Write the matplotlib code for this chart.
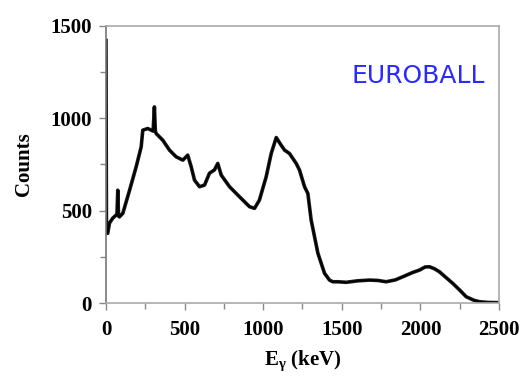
import matplotlib
matplotlib.use("Agg")
import matplotlib.pyplot as plt
from matplotlib.ticker import MultipleLocator

# Gamma-ray energy spectrum (energy in keV, counts per channel)
energy = [0, 3, 11, 22, 43, 70, 75, 80, 86, 107, 150, 192, 224, 234, 266, 300, 308,
          314, 319, 361, 404, 446, 489, 520, 542, 563, 595, 627, 658, 690, 711, 733,
          786, 849, 913, 945, 976, 1019, 1051, 1083, 1114, 1136, 1167, 1210, 1231,
          1263, 1284, 1305, 1348, 1390, 1422, 1443, 1475, 1528, 1600, 1676, 1730,
          1782, 1840, 1888, 1950, 1994, 2030, 2058, 2090, 2121, 2160, 2206, 2250,
          2291, 2340, 2376, 2430, 2500]
counts = [1420, 380, 377, 432, 459, 480, 610, 470, 466, 485, 610, 737, 845, 935, 944,
          930, 1061, 930, 917, 881, 827, 791, 773, 800, 737, 665, 629, 638, 702, 720,
          755, 692, 629, 575, 521, 512, 557, 683, 809, 895, 854, 827, 809, 755, 719,
          629, 593, 449, 269, 161, 124, 115, 115, 112, 120, 124, 122, 115, 125, 142,
          165, 178, 195, 196, 185, 169, 140, 106, 70, 34, 15, 7, 3, 2]

x_ticks = [0, 500, 1000, 1500, 2000, 2500]
y_ticks = [0, 500, 1000, 1500]

plt.rcParams["mathtext.fontset"] = "custom"
plt.rcParams["mathtext.rm"] = "Liberation Serif:bold"
plt.rcParams["mathtext.it"] = "Liberation Serif:bold"
plt.rcParams["mathtext.bf"] = "Liberation Serif:bold"

fig = plt.figure(figsize=(5.27, 3.76), dpi=100)
ax = fig.add_axes([0.2011, 0.1941, 0.7458, 0.7375])

ax.plot(energy, counts, color="black", linewidth=2.6, solid_joinstyle="round",
        alpha=0.9)
ax.plot(energy, counts, color="black", linewidth=1.2, solid_joinstyle="round")

ax.set_xlim(0, 2500)
ax.set_ylim(0, 1500)
ax.set_xticks(x_ticks)
ax.set_yticks(y_ticks)
ax.xaxis.set_minor_locator(MultipleLocator(250))
ax.yaxis.set_minor_locator(MultipleLocator(250))

tick_font = dict(family="Liberation Serif", weight="bold", size=15)
ax.set_xticklabels([str(v) for v in x_ticks], **tick_font)
ax.set_yticklabels([str(v) for v in y_ticks], **tick_font)

ax.tick_params(which="both", direction="out", color="#888888", width=1.0)
ax.tick_params(axis="x", which="major", length=5, pad=7)
ax.tick_params(axis="y", which="major", length=5, pad=5)
ax.tick_params(which="minor", length=4)

for side in ["top", "right", "bottom"]:
    ax.spines[side].set_color("#aaaaaa")
    ax.spines[side].set_linewidth(1.2)
ax.spines["left"].set_color("#777777")
ax.spines["left"].set_linewidth(1.2)

ax.set_ylabel("Counts", family="Liberation Serif", weight="bold", size=15, labelpad=12)
ax.set_xlabel(r"E$_{\gamma}$ (keV)", family="Liberation Serif", weight="bold", size=15,
              labelpad=6)

ax.text(0.964, 0.818, "EUROBALL", transform=ax.transAxes, ha="right", va="center",
        color="#2a2aff", family="DejaVu Sans", size=18)

fig.savefig("out.png", dpi=100)
